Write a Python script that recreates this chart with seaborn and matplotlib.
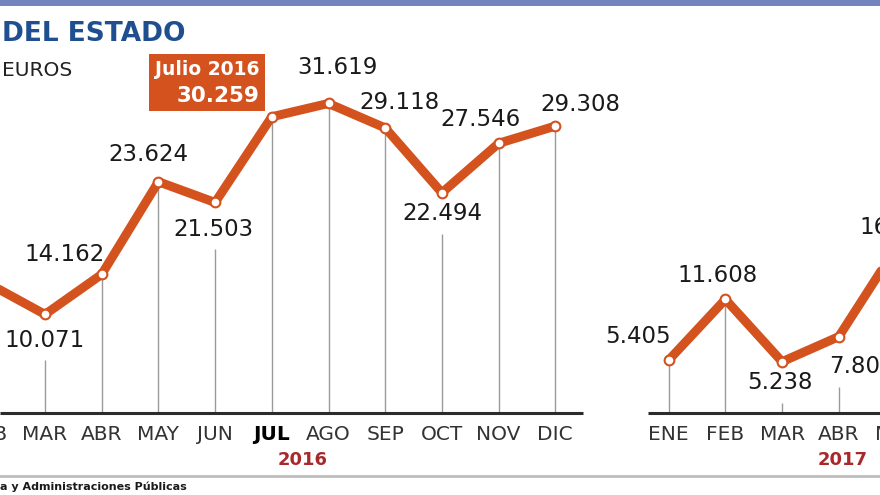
import matplotlib
matplotlib.use("Agg")
import matplotlib.pyplot as plt
from matplotlib.offsetbox import TextArea, VPacker, AnnotationBbox
from matplotlib.patches import Rectangle
from matplotlib.lines import Line2D
import seaborn as sns
import pandas as pd

# ---------------- data ----------------
months_2016 = ["FEB", "MAR", "ABR", "MAY", "JUN", "JUL", "AGO", "SEP", "OCT", "NOV", "DIC"]
values_2016 = [13236, 10071, 14162, 23624, 21503, 30259, 31619, 29118, 22494, 27546, 29308]
months_2017 = ["ENE", "FEB", "MAR", "ABR", "MAY"]
values_2017 = [5405, 11608, 5238, 7803, 16812]
year_labels = ["2016", "2017"]
highlight_month = "JUL"
highlight_title = "Julio 2016"

# ---------------- styles ----------------
ORANGE = "#d4521e"
GREY_V = "#9a9a9a"
AXIS_C = "#2b2b2b"
TITLE_C = "#1f4f8f"
YEAR_C = "#a8282c"
BAR_C = "#7384bf"

sns.set_theme(style="white")
plt.rcParams["font.family"] = ["DejaVu Sans"]

fig = plt.figure(figsize=(8.8, 4.95), dpi=100)
ax = fig.add_axes([0, 0, 1, 1])
ax.set_axis_off()

# x positions: month index (2016: FEB=1 .. DIC=11, gap, 2017: ENE=13 ..)
x16 = list(range(1, 1 + len(months_2016)))
x17 = list(range(13, 13 + len(months_2017)))

df = pd.DataFrame({
    "x": x16 + x17,
    "v": values_2016 + values_2017,
    "year": [year_labels[0]] * len(x16) + [year_labels[1]] * len(x17),
})

PX_X = 56.7      # pixels per month
PX_Y = 0.00979   # pixels per million
XLIM = (2 - 45 / PX_X, 2 + 835 / PX_X)
YLIM = (-(495 - 413) / PX_Y, 413 / PX_Y)

def fmt(v):
    return f"{v:,}".replace(",", ".")

# label offsets in pixels (dx, dy; positive dy = up), 'below' flag
off16 = [(-45, 28, False), (0, -26, True), (-37, 20, False), (-10, 27, False), (-2, -27, True),
         None, (9, 36, False), (14, 25, False), (0, -21, True), (-18, 24, False), (25, 22, False)]
off17 = [(-31, 24, False), (-8, 24, False), (-2, -21, True), (23, -30, True), (4, 21, False)]

# vertical guide lines
for xs, vs, offs in ((x16, values_2016, off16), (x17, values_2017, off17)):
    for x, v, o in zip(xs, vs, offs):
        top = v
        if o is not None and o[2]:
            top = v + (o[1] - 20) / PX_Y
        ax.vlines(x, 0, top, color=GREY_V, lw=1.0, zorder=1)

# baselines
ax.hlines(0, XLIM[0], 2 + 538 / PX_X, color=AXIS_C, lw=2.2, zorder=2)
ax.hlines(0, 2 + 603 / PX_X, 2 + 900 / PX_X, color=AXIS_C, lw=2.2, zorder=2)

# the line
sns.lineplot(data=df, x="x", y="v", hue="year", units="year", estimator=None,
             palette=[ORANGE, ORANGE], lw=6.5, marker="o", markersize=7,
             markerfacecolor="white", markeredgecolor=ORANGE, markeredgewidth=1.5,
             legend=False, ax=ax, zorder=3)
ax.set_xlim(*XLIM)
ax.set_ylim(*YLIM)

# value labels
for xs, vs, ms, offs in ((x16, values_2016, months_2016, off16), (x17, values_2017, months_2017, off17)):
    for x, v, m, o in zip(xs, vs, ms, offs):
        if o is None:
            continue
        ax.annotate(fmt(v), (x, v), xytext=(o[0], o[1]), textcoords="offset pixels",
                    ha="center", va="center", fontsize=16.5, color="#1a1a1a", zorder=5,
                    annotation_clip=False)

# highlight box for JUL 2016
hi = months_2016.index(highlight_month)
ta1 = TextArea(highlight_title, textprops=dict(color="white", fontsize=13.5, fontweight="bold"))
ta2 = TextArea(fmt(values_2016[hi]), textprops=dict(color="white", fontsize=15.5, fontweight="bold"))
pack = VPacker(children=[ta1, ta2], align="right", pad=4, sep=5)
ab = AnnotationBbox(pack, (x16[hi], values_2016[hi]), xybox=(-65, 34), boxcoords="offset pixels",
                    frameon=True, pad=0.0,
                    bboxprops=dict(facecolor=ORANGE, edgecolor="none", boxstyle="square,pad=0"),
                    zorder=6)
ax.add_artist(ab)

# month labels
ymon = -21.5 / PX_Y
for x, m in zip(x16, months_2016):
    ax.text(x, ymon, m, ha="center", va="center", fontsize=14.5,
            color="black" if m == highlight_month else "#333333",
            fontweight="bold" if m == highlight_month else "normal")
for x, m in zip(x17, months_2017):
    ax.text(x, ymon, m, ha="center", va="center", fontsize=14.5, color="#333333")

# year labels
yyear = -47 / PX_Y
ax.text(6.55, yyear, year_labels[0], ha="center", va="center", fontsize=13,
        fontweight="bold", color=YEAR_C)
ax.text(16.07, yyear, year_labels[1], ha="center", va="center", fontsize=13,
        fontweight="bold", color=YEAR_C)

# header / footer decorations
fig.add_artist(Rectangle((0, 1 - 6 / 495), 1, 6 / 495, transform=fig.transFigure,
                         facecolor=BAR_C, edgecolor="none"))
fig.text(185 / 880, 1 - 34 / 495, "DEL ESTADO", ha="right", va="center",
         fontsize=19, fontweight="bold", color=TITLE_C)
fig.text(72 / 880, 1 - 70 / 495, "EUROS", ha="right", va="center", fontsize=14.5, color="#222222")
fig.add_artist(Line2D([0, 1], [1 - 476 / 495] * 2, transform=fig.transFigure,
                      color="#bdbdbd", lw=2))
fig.text(0, 1 - 487 / 495, "a y Administraciones Públicas", ha="left", va="center",
         fontsize=8, fontweight="bold", color="#1a1a1a")

fig.savefig("out.png", dpi=100)
